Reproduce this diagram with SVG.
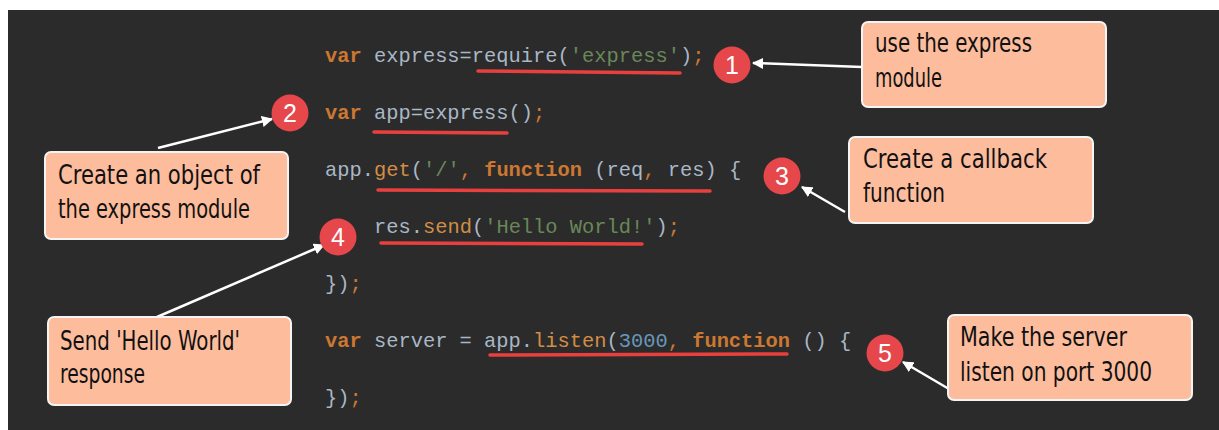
<svg xmlns="http://www.w3.org/2000/svg" width="1219" height="430" viewBox="0 0 1219 430">
  <style>
    .code { font-family: "Liberation Mono", "Courier New", monospace; font-size: 20.4px; fill: #a9b7c6; }
    .kw { fill: #cc7832; font-weight: bold; }
    .p { fill: #cc7832; }
    .fn { fill: #d38d45; }
    .str { fill: #6a8759; }
    .num { fill: #6897bb; }
    .ul { stroke: #e8403e; stroke-width: 3.5; stroke-linecap: round; fill: none; }
    .badge circle { fill: #e5474b; }
    .badge text { font-family: "Liberation Sans", Arial, sans-serif; font-size: 25px; fill: #ffffff; text-anchor: middle; }
    .note rect { fill: #fdbd9d; stroke: #f4f4f4; stroke-width: 2; }
    .note text { font-family: "Liberation Sans Narrow", "DejaVu Sans Condensed", "Liberation Sans", sans-serif; font-size: 26px; fill: #111111; }
    .conn line { stroke: #ffffff; stroke-width: 2.5; marker-end: url(#arrow); }
  </style>
  <defs>
    <marker id="arrow" viewBox="0 0 10 10" refX="9" refY="5" markerWidth="4.5" markerHeight="4.5" orient="auto" markerUnits="strokeWidth">
      <path d="M0,0 L10,5 L0,10 z" fill="#ffffff"/>
    </marker>
  </defs>

  <!-- page and editor background -->
  <rect x="0" y="0" width="1219" height="430" fill="#ffffff"/>
  <rect x="8" y="10" width="1211" height="420" fill="#2b2b2b"/>

  <!-- source code -->
  <g id="code">
    <text class="code" x="325" y="62"><tspan class="kw">var</tspan> express=require(<tspan class="str">'express'</tspan>)<tspan class="p">;</tspan></text>
    <text class="code" x="325" y="119"><tspan class="kw">var</tspan> app=express()<tspan class="p">;</tspan></text>
    <text class="code" x="325" y="176">app.<tspan class="fn">get</tspan>(<tspan class="str">'/'</tspan><tspan class="p">,</tspan> <tspan class="kw">function</tspan> (req<tspan class="p">,</tspan> res) {</text>
    <text class="code" x="374" y="233">res.<tspan class="fn">send</tspan>(<tspan class="str">'Hello World!'</tspan>)<tspan class="p">;</tspan></text>
    <text class="code" x="325" y="290">})<tspan class="p">;</tspan></text>
    <text class="code" x="325" y="347"><tspan class="kw">var</tspan> server = app.<tspan class="fn">listen</tspan>(<tspan class="num">3000</tspan><tspan class="p">,</tspan> <tspan class="kw">function</tspan> () {</text>
    <text class="code" x="325" y="404">})<tspan class="p">;</tspan></text>
  </g>

  <!-- red underlines -->
  <g id="underlines">
    <line class="ul" x1="478" y1="71" x2="680" y2="73"/>
    <line class="ul" x1="374" y1="132" x2="507" y2="133"/>
    <line class="ul" x1="378" y1="190" x2="710" y2="191"/>
    <line class="ul" x1="381" y1="243" x2="642" y2="244"/>
    <line class="ul" x1="490" y1="355" x2="787" y2="354"/>
  </g>

  <!-- connectors -->
  <g id="connectors" class="conn">
    <line x1="862" y1="67" x2="753" y2="63"/>
    <line x1="158" y1="148" x2="272" y2="119"/>
    <line x1="845" y1="212" x2="802" y2="187"/>
    <line x1="157" y1="317" x2="324" y2="245"/>
    <line x1="949" y1="389" x2="903" y2="362"/>
  </g>

  <!-- numbered badges -->
  <g id="badge1" class="badge"><circle cx="732" cy="65" r="18.5"/><text x="732" y="74">1</text></g>
  <g id="badge2" class="badge"><circle cx="290" cy="113" r="18.5"/><text x="290" y="122">2</text></g>
  <g id="badge3" class="badge"><circle cx="782" cy="176" r="18.5"/><text x="782" y="185">3</text></g>
  <g id="badge4" class="badge"><circle cx="338" cy="237" r="18.5"/><text x="338" y="246">4</text></g>
  <g id="badge5" class="badge"><circle cx="885" cy="353" r="18.5"/><text x="885" y="362">5</text></g>

  <!-- callout notes -->
  <g id="note1" class="note">
    <rect x="862" y="22" width="244" height="85" rx="6"/>
    <text x="875" y="52" textLength="157" lengthAdjust="spacingAndGlyphs">use the express</text>
    <text x="875" y="87" textLength="67" lengthAdjust="spacingAndGlyphs">module</text>
  </g>
  <g id="note2" class="note">
    <rect x="45" y="152" width="243" height="87" rx="6"/>
    <text x="58" y="184" textLength="202" lengthAdjust="spacingAndGlyphs">Create an object of</text>
    <text x="58" y="218" textLength="192" lengthAdjust="spacingAndGlyphs">the express module</text>
  </g>
  <g id="note3" class="note">
    <rect x="849" y="137" width="244" height="86" rx="6"/>
    <text x="863" y="168" textLength="184" lengthAdjust="spacingAndGlyphs">Create a callback</text>
    <text x="863" y="202" textLength="82" lengthAdjust="spacingAndGlyphs">function</text>
  </g>
  <g id="note4" class="note">
    <rect x="48" y="317" width="243" height="88" rx="6"/>
    <text x="60" y="350" textLength="180" lengthAdjust="spacingAndGlyphs">Send 'Hello World'</text>
    <text x="60" y="383" textLength="85" lengthAdjust="spacingAndGlyphs">response</text>
  </g>
  <g id="note5" class="note">
    <rect x="948" y="315" width="244" height="85" rx="6"/>
    <text x="960" y="346" textLength="167" lengthAdjust="spacingAndGlyphs">Make the server</text>
    <text x="960" y="381" textLength="192" lengthAdjust="spacingAndGlyphs">listen on port 3000</text>
  </g>
</svg>
